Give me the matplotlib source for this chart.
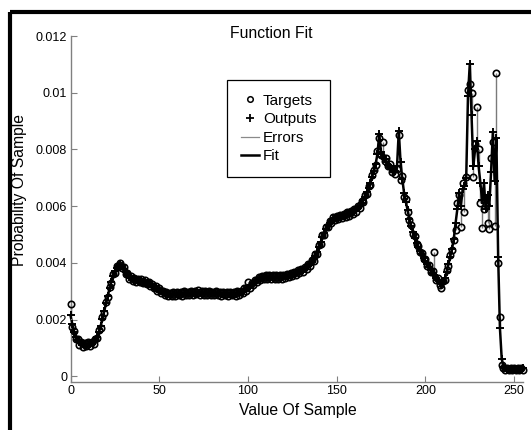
import numpy as np
import matplotlib.pyplot as plt
from matplotlib.lines import Line2D

# sample index 0..255, values in units of 1e-3
samples = np.arange(256)

targets_e3 = [
    2.55, 1.75, 1.60, 1.32, 1.30, 1.12, 1.22, 1.05, 1.18, 1.08, 1.20, 1.07, 1.22, 1.15, 1.32, 1.34,
    1.62, 1.72, 2.10, 2.25, 2.62, 2.80, 3.16, 3.30, 3.60, 3.66, 3.88, 3.84, 3.98, 3.82, 3.86, 3.62,
    3.64, 3.44, 3.52, 3.36, 3.46, 3.33, 3.44, 3.31, 3.42, 3.28, 3.38, 3.24, 3.33, 3.18, 3.26, 3.10,
    3.18, 3.02, 3.10, 2.94, 3.02, 2.86, 2.97, 2.84, 2.95, 2.82, 2.97, 2.84, 2.98, 2.86, 2.99, 2.85,
    3.00, 2.86, 2.99, 2.87, 3.01, 2.88, 3.00, 2.89, 3.03, 2.88, 3.02, 2.87, 3.01, 2.88, 3.00, 2.87,
    2.99, 2.86, 3.00, 2.87, 2.99, 2.85, 2.98, 2.86, 2.99, 2.85, 2.98, 2.86, 2.99, 2.85, 3.00, 2.88,
    3.02, 2.93, 3.10, 3.00, 3.32, 3.12, 3.30, 3.22, 3.40, 3.31, 3.49, 3.39, 3.55, 3.43, 3.58, 3.44,
    3.58, 3.43, 3.57, 3.42, 3.56, 3.42, 3.57, 3.44, 3.59, 3.46, 3.62, 3.49, 3.65, 3.53, 3.69, 3.57,
    3.74, 3.63, 3.80, 3.69, 3.87, 3.77, 3.96, 3.88, 4.10, 4.06, 4.32, 4.33, 4.63, 4.66, 4.97, 4.99,
    5.27, 5.25, 5.49, 5.42, 5.61, 5.50, 5.66, 5.54, 5.70, 5.58, 5.74, 5.62, 5.78, 5.66, 5.83, 5.72,
    5.90, 5.81, 6.01, 5.94, 6.17, 6.14, 6.41, 6.42, 6.72, 6.76, 7.10, 7.28, 7.45, 7.95, 8.40, 7.80,
    8.25, 7.60, 7.70, 7.40, 7.50, 7.22, 7.30, 7.15, 7.30, 8.50, 6.92, 7.05, 6.34, 6.25, 5.80, 5.50,
    5.35, 5.02, 4.95, 4.65, 4.60, 4.38, 4.36, 4.12, 4.12, 3.88, 3.92, 3.68, 3.72, 4.40, 3.40, 3.45,
    3.22, 3.10, 3.36, 3.40, 3.75, 3.90, 4.28, 4.46, 4.81, 5.16, 6.10, 6.40, 5.28, 6.80, 5.80, 7.04,
    10.10, 10.30, 9.98, 7.04, 8.20, 9.50, 8.00, 6.10, 5.22, 5.90, 6.30, 5.40, 5.20, 7.70, 8.27, 5.30,
    10.70, 3.98, 2.10, 0.40, 0.30, 0.24, 0.30, 0.22, 0.29, 0.21, 0.28, 0.22, 0.30, 0.23, 0.31, 0.24,
]

outputs_e3 = [
    2.15, 1.85, 1.55, 1.38, 1.27, 1.20, 1.16, 1.13, 1.12, 1.12, 1.13, 1.14, 1.16, 1.20, 1.26, 1.38,
    1.55, 1.78, 2.03, 2.30, 2.57, 2.84, 3.10, 3.34, 3.54, 3.70, 3.82, 3.89, 3.92, 3.88, 3.80, 3.69,
    3.58, 3.50, 3.45, 3.42, 3.40, 3.39, 3.38, 3.37, 3.36, 3.34, 3.32, 3.30, 3.27, 3.24, 3.20, 3.16,
    3.12, 3.08, 3.04, 3.00, 2.96, 2.93, 2.91, 2.90, 2.89, 2.89, 2.90, 2.90, 2.91, 2.92, 2.92, 2.92,
    2.93, 2.93, 2.93, 2.93, 2.94, 2.94, 2.94, 2.95, 2.95, 2.95, 2.95, 2.95, 2.95, 2.94, 2.94, 2.94,
    2.93, 2.93, 2.93, 2.93, 2.93, 2.92, 2.92, 2.92, 2.92, 2.92, 2.92, 2.92, 2.92, 2.92, 2.93, 2.94,
    2.96, 2.99, 3.03, 3.08, 3.13, 3.18, 3.23, 3.28, 3.33, 3.38, 3.42, 3.46, 3.48, 3.50, 3.51, 3.51,
    3.51, 3.50, 3.50, 3.49, 3.49, 3.49, 3.50, 3.51, 3.52, 3.53, 3.55, 3.56, 3.58, 3.60, 3.62, 3.64,
    3.67, 3.70, 3.73, 3.76, 3.80, 3.84, 3.89, 3.95, 4.03, 4.13, 4.25, 4.40, 4.56, 4.73, 4.90, 5.06,
    5.20, 5.32, 5.42, 5.49, 5.54, 5.57, 5.59, 5.61, 5.63, 5.65, 5.67, 5.69, 5.71, 5.73, 5.76, 5.79,
    5.83, 5.88, 5.94, 6.01, 6.10, 6.21, 6.34, 6.49, 6.65, 6.83, 7.03, 7.25, 7.50, 7.85, 8.55, 7.90,
    7.75, 7.65, 7.55, 7.45, 7.38, 7.30, 7.22, 7.25, 7.40, 8.65, 7.55, 6.95, 6.45, 6.15, 5.85, 5.55,
    5.30, 5.08, 4.88, 4.70, 4.55, 4.42, 4.30, 4.18, 4.06, 3.95, 3.85, 3.75, 3.65, 3.56, 3.47, 3.38,
    3.30, 3.25, 3.30, 3.45, 3.68, 3.95, 4.22, 4.50, 4.85, 5.40, 5.90, 6.45, 6.00, 6.60, 6.70, 7.00,
    9.90, 11.00, 9.20, 7.40, 8.00, 8.30, 7.40, 6.80, 6.20, 6.80, 5.90, 6.40, 6.00, 7.20, 8.60, 6.90,
    8.40, 4.20, 1.70, 0.62, 0.32, 0.28, 0.27, 0.26, 0.26, 0.25, 0.25, 0.26, 0.26, 0.27, 0.27, 0.28,
]

targets = np.array(targets_e3) * 1e-3
outputs = np.array(outputs_e3) * 1e-3

xticks = [0, 50, 100, 150, 200, 250]
yticks = [0, 0.002, 0.004, 0.006, 0.008, 0.01, 0.012]
ytick_labels = ['0', '0.002', '0.004', '0.006', '0.008', '0.01', '0.012']

plt.rcParams['font.family'] = ['Liberation Sans', 'DejaVu Sans']

W, H = 531, 430
fig = plt.figure(figsize=(W / 100, H / 100), dpi=100)
ax = fig.add_axes([70.5 / W, 48 / H, (523 - 70.5) / W, (382 - 36) / H])

# errors: vertical segments between target and output
ax.vlines(samples, targets, outputs, color='#7a7a7a', lw=1.0, zorder=1, clip_on=False)
ax.plot(samples, outputs, color='black', lw=1.8, zorder=2, clip_on=False)
ax.plot(samples, targets, 'o', mfc='none', mec='black', ms=4.6, mew=1.2, zorder=3, clip_on=False)
ax.plot(samples, outputs, '+', color='black', ms=6, mew=1.4, zorder=4, clip_on=False)

ax.set_xlim(0, 255)
ax.set_ylim(-0.0002, 0.012)
ax.set_xticks(xticks)
ax.set_xticklabels([str(t) for t in xticks])
ax.set_yticks(yticks)
ax.set_yticklabels(ytick_labels)

for s in ['top', 'right']:
    ax.spines[s].set_visible(False)
for s in ['left', 'bottom']:
    ax.spines[s].set_color('#808080')
    ax.spines[s].set_linewidth(1.0)
ax.tick_params(direction='in', length=4, width=0.8, color='#808080', labelsize=9, pad=2.5)

fig.text(271 / W, 1 - 33 / H, 'Function Fit', fontsize=11.3, ha='center', va='center')
fig.text(298 / W, 1 - 410 / H, 'Value Of Sample', fontsize=11.3, ha='center', va='center')
fig.text(20 / W, 1 - 190 / H, 'Probability Of Sample', fontsize=11.3, ha='center', va='center',
         rotation=90)

handles = [
    Line2D([], [], ls='none', marker='o', mfc='none', mec='black', ms=4, mew=1.1),
    Line2D([], [], ls='none', marker='+', color='black', ms=5.5, mew=1.3),
    Line2D([], [], color='#8a8a8a', lw=0.9),
    Line2D([], [], color='black', lw=1.8),
]
labels = ['Targets', 'Outputs', 'Errors', 'Fit']
leg = fig.legend(handles, labels, loc='upper left', bbox_to_anchor=(227 / W, 1 - 80 / H),
                 bbox_transform=fig.transFigure, borderaxespad=0, fontsize=11,
                 fancybox=False, edgecolor='black', framealpha=1, handlelength=1.2,
                 handletextpad=0.25, labelspacing=0.3, borderpad=0.9)
leg.get_frame().set_linewidth(0.9)

# thick outer border
fig.add_artist(Line2D([10 / W, 1], [1 - 12 / H, 1 - 12 / H], transform=fig.transFigure,
                      color='black', lw=3, solid_capstyle='butt'))
fig.add_artist(Line2D([10 / W, 10 / W], [0, 1 - 12 / H], transform=fig.transFigure,
                      color='black', lw=3, solid_capstyle='butt'))

fig.savefig('out.png', dpi=100)
